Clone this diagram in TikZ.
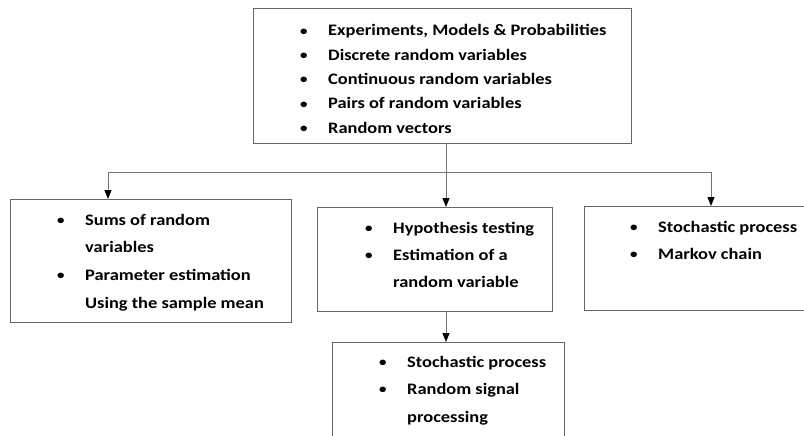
\documentclass[tikz,border=0pt]{standalone}
\usepackage{fontspec}
\setmainfont{Carlito}[BoldFeatures={FakeStretch=1.15}]
\usetikzlibrary{arrows.meta}
\tikzset{
  box/.style={draw=black!60, line width=1pt, anchor=north west, inner sep=0pt},
  conn/.style={draw=black!55, line width=1pt},
  arr/.style={conn, -{Triangle[length=9pt,width=7pt,color=black]}},
  txt/.style={anchor=base west, inner sep=0pt, font=\bfseries}
}
\newcommand{\bul}{\raisebox{0.6pt}{\fontsize{13}{13}\selectfont\textbullet}}
\newcommand{\blist}[2]{{\fontsize{16}{#1}\selectfont\begin{tabular}[t]{@{}p{28pt}@{}l@{}}#2\end{tabular}}}
\begin{document}
\begin{tikzpicture}[x=1pt,y=-1pt]
\useasboundingbox (0,0) rectangle (804,436);
% boxes
\node[box, minimum width=378pt, minimum height=135pt] (top) at (253,8) {};
\node[box, minimum width=281pt, minimum height=123pt] (left) at (10,199) {};
\node[box, minimum width=235pt, minimum height=104pt] (mid) at (317,207) {};
\node[box, minimum width=240pt, minimum height=104pt] (right) at (584,206) {};
\node[box, minimum width=232pt, minimum height=110pt] (bot) at (332,342) {};
% texts
\node[txt] (ttop) at (300,36) {\blist{24.3}{\bul & Experiments, Models \& Probabilities\\ \bul & Discrete random variables\\ \bul & Continuous random variables\\ \bul & Pairs of random variables\\ \bul & Random vectors}};
\node[txt] (tleft) at (57,225) {\blist{27.7}{\bul & Sums of random\\ & variables\\ \bul & Parameter estimation\\ & Using the sample mean}};
\node[txt] (tmid) at (365,233) {\blist{27.5}{\bul & Hypothesis testing\\ \bul & Estimation of a\\ & random variable}};
\node[txt] (tright) at (630,232) {\blist{27}{\bul & Stochastic process\\ \bul & Markov chain}};
\node[txt] (tbot) at (379,367) {\blist{27.5}{\bul & Stochastic process\\ \bul & Random signal\\ & processing}};
% connectors
\coordinate (jn) at (446,172);
\coordinate (jl) at (108,172);
\coordinate (jr) at (711,172);
\draw[conn] (top.south -| jn) -- (jn);
\draw[conn] (jl) -- (jr);
\draw[arr] (jl) -- (jl |- left.north);
\draw[arr] (jn) -- (jn |- mid.north);
\draw[arr] (jr) -- (jr |- right.north);
\draw[arr] (mid.south -| jn) -- (jn |- bot.north);
\end{tikzpicture}
\end{document}
